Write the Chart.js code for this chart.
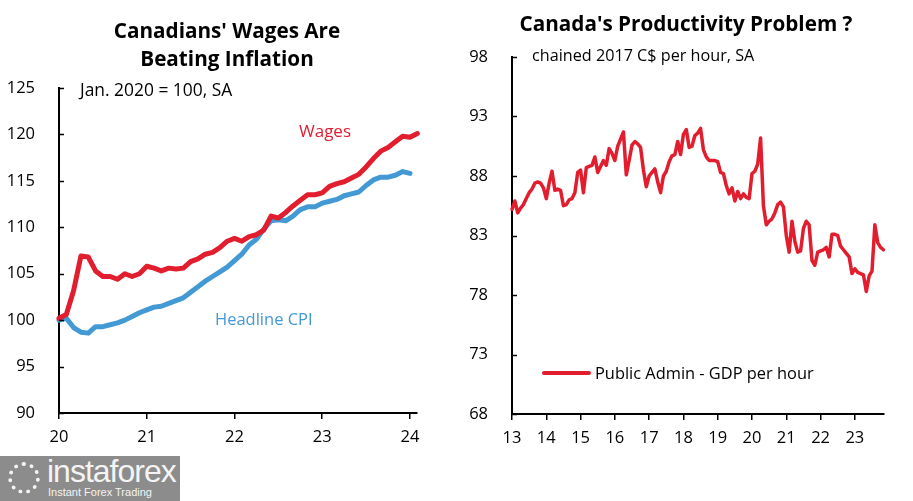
<!DOCTYPE html>
<html>
<head>
<meta charset="utf-8">
<script src="https://cdn.jsdelivr.net/npm/chart.js@4.4.1/dist/chart.umd.min.js"></script>
<style>
  html, body { margin:0; padding:0; background:#fff; }
  body { width:913px; height:501px; position:relative; overflow:hidden; font-family:"Open Sans", sans-serif; color:#000; }
  .abs { position:absolute; white-space:nowrap; }
  .title { font-weight:700; font-size:20.7px; text-align:center; line-height:28px; }
  #wm { position:absolute; left:0; top:456px; width:180px; height:45px; background:#8c8c8c; color:#f4f4f4; overflow:hidden; }
</style>
</head>
<body>
<div class="abs" style="left:0;top:0;width:455px;height:501px;"><canvas id="c1" width="455" height="501"></canvas></div>
<div class="abs" style="left:455px;top:0;width:458px;height:501px;"><canvas id="c2" width="458" height="501"></canvas></div>

<div class="abs title" style="left:77px;top:16px;width:300px;">Canadians' Wages Are<br>Beating Inflation</div>
<div class="abs title" style="left:486px;top:9px;width:400px;">Canada's Productivity Problem ?</div>
<div class="abs" style="left:80px;top:77px;font-size:17.4px;">Jan. 2020 = 100, SA</div>
<div class="abs" style="left:532px;top:44px;font-size:16.2px;">chained 2017 C$ per hour, SA</div>
<div class="abs" style="left:299px;top:119px;color:#e11d2e;font-size:17px;">Wages</div>
<div class="abs" style="left:215px;top:307px;color:#4399d3;font-size:16.5px;">Headline CPI</div>
<div class="abs" style="left:542px;top:371px;width:49px;height:4px;background:#e11d2e;border-radius:2px;"></div>
<div class="abs" style="left:595px;top:361px;font-size:16.4px;">Public Admin - GDP per hour</div>

<div id="wm">
  <div class="abs" style="left:8px;top:6px;width:32px;height:32px;border-radius:50%;border:4px dotted #f4f4f4;box-sizing:border-box;"></div>
  <div class="abs" style="left:47px;top:-3px;font-size:32px;letter-spacing:-1px;font-family:'Liberation Sans',sans-serif;">instaforex</div>
  <div class="abs" style="left:48px;top:30px;font-size:11px;font-family:'Liberation Sans',sans-serif;">Instant Forex Trading</div>
</div>

<script>
// ---------- Left chart data (monthly, starting Jan 2020) ----------
const wagesStart = 2020;
const wages = [100.2,100.6,103.2,106.9,106.8,105.3,104.7,104.7,104.4,105.0,104.7,105.0,
               105.8,105.6,105.3,105.6,105.5,105.6,106.3,106.6,107.1,107.3,107.8,108.5,
               108.8,108.5,109.0,109.2,109.7,111.2,111.0,111.6,112.3,112.9,113.5,113.5,
               113.7,114.4,114.7,114.9,115.3,115.7,116.5,117.4,118.2,118.6,119.2,119.8,
               119.7,120.1];
const cpi = [100.0,100.2,99.2,98.7,98.6,99.3,99.3,99.5,99.7,100.0,100.4,100.8,
             101.1,101.4,101.5,101.8,102.1,102.4,103.0,103.6,104.2,104.7,105.2,105.7,
             106.4,107.1,108.1,108.7,109.8,110.7,110.8,110.7,111.2,111.9,112.2,112.2,
             112.6,112.8,113.0,113.4,113.6,113.8,114.5,115.1,115.4,115.4,115.6,116.0,
             115.8];
const leftXTicks = [20,21,22,23,24];
const leftYTicks = [90,95,100,105,110,115,120,125];

// ---------- Right chart data (monthly, starting Jan 2013) ----------
const prodStart = 2013;
const productivity = [
  85.2,85.9,84.9,85.3,85.6,86.1,86.6,86.9,87.4,87.5,87.4,87.0,
  86.1,87.4,88.4,86.8,86.9,86.8,85.5,85.6,86.0,86.1,86.6,88.3,
  88.5,86.6,88.7,88.8,88.9,89.6,88.3,88.8,89.3,88.9,90.3,89.9,
  89.3,90.5,91.1,91.7,88.1,89.3,90.6,90.9,90.7,90.4,88.5,87.1,
  88.0,88.3,88.6,87.5,86.6,88.0,88.4,89.2,89.7,89.8,90.9,89.8,
  91.5,91.9,90.4,90.5,91.4,91.6,92.0,90.2,89.6,89.3,89.3,89.3,
  89.2,88.3,88.2,87.2,86.5,87.0,85.9,86.7,86.1,86.5,86.2,86.1,
  88.2,88.4,89.0,91.2,85.5,83.9,84.2,84.4,84.9,85.6,85.8,85.4,
  83.0,81.6,84.2,82.5,81.6,81.7,83.6,84.2,83.9,80.9,80.5,81.6,
  81.7,81.8,82.0,81.2,83.1,83.1,83.0,82.1,81.8,81.5,81.2,79.8,
  80.2,79.9,79.8,79.7,78.3,79.6,80.0,83.9,82.4,82.0,81.8];
const rightXTicks = [13,14,15,16,17,18,19,20,21,22,23];
const rightYTicks = [68,73,78,83,88,93,98];

const RED = '#e11d2e', BLUE = '#4399d3';
const FONT = {family:'"Open Sans", sans-serif', size:16.5};

function toPoints(vals, startYear) {
  const base = startYear % 100;
  return vals.map((v, i) => ({x: base + i / 12, y: v}));
}

const innerTicks = {
  id: 'innerTicks',
  afterDraw(chart) {
    const y = chart.scales.y, ctx = chart.ctx, left = chart.chartArea.left;
    ctx.save();
    ctx.strokeStyle = '#000';
    ctx.lineWidth = 1.5;
    y.ticks.forEach(t => {
      const py = Math.round(y.getPixelForValue(t.value)) + 0.5;
      ctx.beginPath(); ctx.moveTo(left, py); ctx.lineTo(left + 5, py); ctx.stroke();
    });
    ctx.restore();
  }
};

function makeChart(id, datasets, xr, yr, xTicks, yTicks, geom) {
  return new Chart(document.getElementById(id), {
    type: 'line',
    data: { datasets },
    plugins: [innerTicks],
    options: {
      responsive: false,
      animation: false,
      events: [],
      layout: { padding: { left: 0, right: geom.right, top: geom.top, bottom: 0 } },
      plugins: { legend: { display: false }, tooltip: { enabled: false }, title: { display: false } },
      elements: { point: { radius: 0 }, line: { tension: 0, borderJoinStyle: 'round', borderCapStyle: 'round' } },
      scales: {
        x: {
          type: 'linear', min: xr[0], max: xr[1],
          afterBuildTicks: s => { s.ticks = xTicks.map(v => ({value: v})); },
          afterFit: s => { s.height = geom.xh; },
          grid: { display: true, drawOnChartArea: false, drawTicks: true, tickLength: 6, color: '#000', lineWidth: 1.5 },
          border: { display: true, color: '#000', width: 2 },
          ticks: { color: '#000', font: FONT, padding: 8, maxRotation: 0, autoSkip: false, callback: v => String(v) }
        },
        y: {
          type: 'linear', min: yr[0], max: yr[1],
          afterBuildTicks: s => { s.ticks = yTicks.map(v => ({value: v})); },
          afterFit: s => { s.width = geom.yw; },
          grid: { display: false },
          border: { display: true, color: '#000', width: 2 },
          ticks: { color: '#000', font: FONT, padding: 16, autoSkip: false, callback: v => String(v) }
        }
      }
    }
  });
}

makeChart('c1', [
  { data: toPoints(wages, wagesStart), borderColor: RED, borderWidth: 5, clip: false },
  { data: toPoints(cpi, wagesStart), borderColor: BLUE, borderWidth: 5, clip: false }
], [20, 24.08], [90, 125], leftXTicks, leftYTicks, { right: 38, top: 88, xh: 88, yw: 59 });

makeChart('c2', [
  { data: toPoints(productivity, prodStart), borderColor: RED, borderWidth: 3.5, clip: false }
], [13, 23.85], [68, 98], rightXTicks, rightYTicks, { right: 29, top: 57, xh: 87, yw: 57 });
</script>
</body>
</html>
